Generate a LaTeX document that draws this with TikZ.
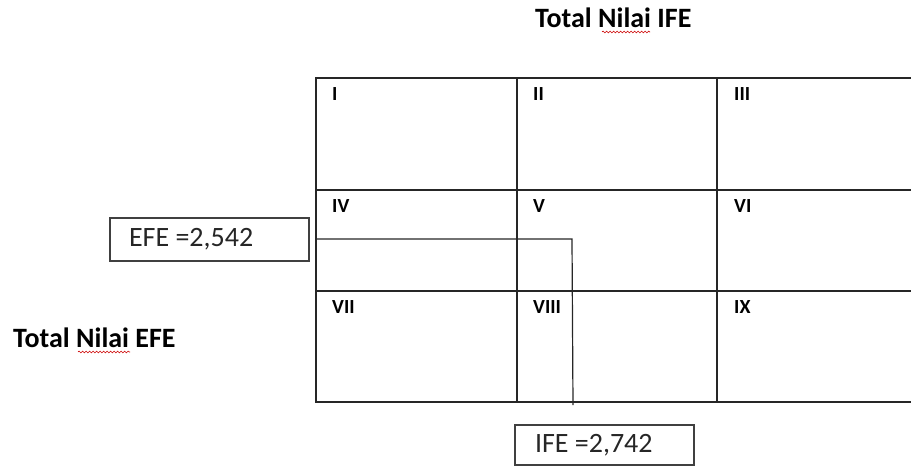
\documentclass[tikz,border=0pt]{standalone}
\usepackage{fontspec}
\setmainfont{Carlito}
\usetikzlibrary{decorations.pathmorphing}
\begin{document}
\begin{tikzpicture}[x=1pt,y=-1pt,
  grid/.style={draw=black!85,line width=1.4pt},
  cellno/.style={anchor=north west,inner sep=0pt,font=\bfseries\fontsize{20}{24}\selectfont},
  valbox/.style={draw=black!75,line width=1.3pt,inner sep=0pt,text=black!85,font=\fontsize{28}{32}\selectfont},
  title/.style={inner sep=0pt,font=\bfseries\fontsize{28}{32}\selectfont},
  squig/.style={draw=red!80!black,line width=0.6pt,decorate,decoration={snake,amplitude=0.9pt,segment length=3.5pt}}]
\useasboundingbox (0,0) rectangle (911,466);
% grid (open at the right edge)
\draw[grid] (911,78) -- (316,78) -- (316,402) -- (911,402);
\draw[grid] (517,78) -- (517,402);
\draw[grid] (717,78) -- (717,402);
\draw[grid] (316,190) -- (911,190);
\draw[grid] (316,291) -- (911,291);
% cell labels
\node[cellno] (c1) at (332,87) {I};
\node[cellno] (c2) at (533,87) {II};
\node[cellno] (c3) at (734,87) {III};
\node[cellno] (c4) at (332,199) {IV};
\node[cellno] (c5) at (533,199) {V};
\node[cellno] (c6) at (734,199) {VI};
\node[cellno] (c7) at (332,300) {VII};
\node[cellno] (c8) at (533,300) {VIII};
\node[cellno] (c9) at (734,300) {IX};
% titles
\node[title,anchor=base west] (tife) at (535,27) {Total Nilai IFE};
\node[title,anchor=base west] (tefe) at (13,347) {Total Nilai EFE};
\path[squig] (tife.base west) ++(67,5) -- ++(48,0);
\path[squig] (tefe.base west) ++(65,5) -- ++(52,0);
% value boxes
\node[valbox,minimum height=43pt] (efe) at (209.5,239.5) {\makebox[199pt][l]{\hspace*{19pt}EFE =2,542}};
\node[valbox,minimum height=40pt] (ife) at (604.5,445) {\makebox[179pt][l]{\hspace*{20pt}\raisebox{-2pt}{IFE =2,742}}};
% marker lines
\coordinate (eL) at (316,239);
\coordinate (corner) at (572,239);
\coordinate (iB) at (573,405);
\draw[black!85,line width=1.2pt] (eL) -- (corner) -- (iB);
\end{tikzpicture}
\end{document}
